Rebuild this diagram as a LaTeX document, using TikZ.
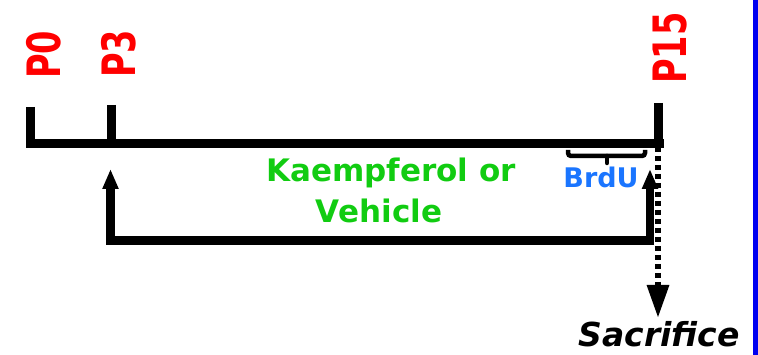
\documentclass[tikz,border=0pt]{standalone}
\usepackage{fontspec}
\setmainfont{DejaVu Sans}
\usetikzlibrary{arrows.meta}
\definecolor{pred}{HTML}{FF0000}
\definecolor{pgreen}{HTML}{11CC11}
\definecolor{pblue}{HTML}{1A75FF}
\definecolor{barblue}{HTML}{0000F0}
\tikzset{
  plabel/.style={rotate=90, inner sep=0pt, text=pred, font=\fontsize{46}{50}\selectfont\bfseries},
  thick line/.style={line width=9pt, line join=miter},
}
\begin{document}
\begin{tikzpicture}[x=1pt,y=-1pt]
\useasboundingbox (0,0) rectangle (758,355);
\fill[barblue] (753,0) rectangle (758,355);
% labels
\node[plabel] (p0) at (44,55) {\scalebox{0.73}[1]{P0}};
\node[plabel] (p3) at (119,54) {\scalebox{0.73}[1]{P3}};
\node[plabel] (p15) at (670,48) {\scalebox{0.73}[1]{P15}};
% timeline
\coordinate (t0top) at (30.5,107);
\coordinate (t0) at (30.5,143.5);
\coordinate (tend) at (664,143.5);
\coordinate (t3top) at (111.5,105);
\coordinate (t3) at (111.5,143.5);
\coordinate (t15top) at (658,103);
\coordinate (t15) at (658,143.5);
\draw[thick line] (t0top) -- (t0) -- (tend);
\draw[thick line] (t3top) -- (t3);
\draw[thick line] (t15top) -- (t15);
% treatment bracket
\coordinate (la) at (110.5,169);
\coordinate (lb) at (110.5,240.5);
\coordinate (rb) at (650,240.5);
\coordinate (ra) at (650,169);
\draw[line width=8.5pt, line join=miter, {Triangle[width=15pt,length=20pt]}-{Triangle[width=15pt,length=20pt]}] (la) -- (lb) -- (rb) -- (ra);
% BrdU bracket
\coordinate (b1) at (568,150);
\coordinate (b2) at (568,156);
\coordinate (b3) at (645,156);
\coordinate (b4) at (645,150);
\coordinate (bm) at (607,156);
\coordinate (bn) at (607,163);
\draw[line width=4.5pt, rounded corners=3pt] (b1) -- (b2) -- (b3) -- (b4);
\draw[line width=4.5pt, line cap=round] (bm) -- (bn);
% sacrifice arrow
\coordinate (s0) at (658,147);
\coordinate (s1) at (658,318);
\draw[line width=6pt, dash pattern=on 5pt off 4pt, -{Triangle[width=21pt,length=33pt]}] (s0) -- (s1);
% texts
\node[anchor=base, inner sep=0pt, text=pgreen, font=\fontsize{31}{37}\selectfont\bfseries] (k1) at (391,182) {Kaempferol or};
\node[anchor=base, inner sep=0pt, text=pgreen, font=\fontsize{31}{37}\selectfont\bfseries] (k2) at (379,223) {Vehicle};
\node[anchor=base, inner sep=0pt, text=pblue, font=\fontsize{27}{30}\selectfont\bfseries] (brdu) at (601,188) {BrdU};
\node[anchor=base, inner sep=0pt, font=\fontsize{33}{36}\selectfont\bfseries\itshape] (sac) at (659,347) {Sacrifice};
\end{tikzpicture}
\end{document}
